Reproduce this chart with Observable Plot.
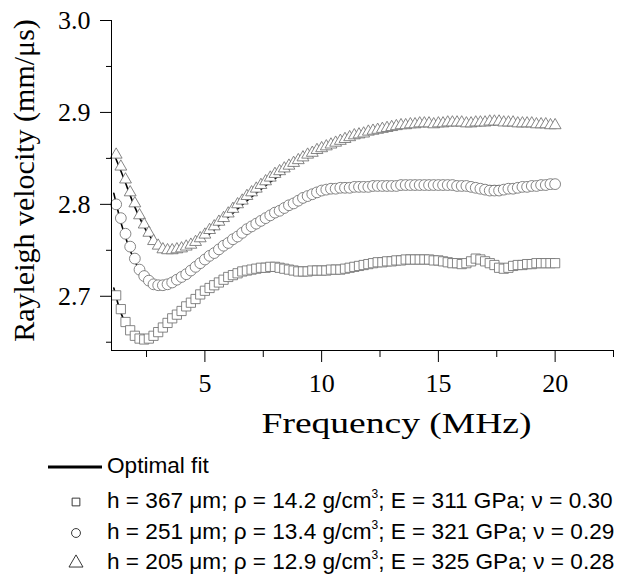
<!DOCTYPE html>
<html><head><meta charset="utf-8">
<script src="https://cdn.jsdelivr.net/npm/d3@7"></script>
<script src="https://cdn.jsdelivr.net/npm/@observablehq/plot@0.6"></script>
<style>
body{margin:0;background:#fff;width:619px;height:576px;overflow:hidden;}
#legend{position:relative;width:619px;height:131px;font-family:"Liberation Sans",Arial,sans-serif;font-size:22.6px;color:#000;}
#legend .row{position:absolute;left:0;line-height:22px;white-space:nowrap;}
#legend .txt{position:absolute;left:107px;top:0;}
#legend svg{position:absolute;overflow:visible;}
#legend sup{font-size:12px;vertical-align:10px;line-height:0;}
</style></head><body>
<div id="chart"></div>
<div id="legend"></div>
<script>
// Frequency grid of the measured points (MHz)
const freq = [
 1.2,1.4,1.6,1.8,2.0,2.2,2.4,2.6,2.8,3.0,
 3.2,3.4,3.6,3.8,4.0,4.2,4.4,4.6,4.8,5.0,
 5.2,5.4,5.6,5.8,6.0,6.2,6.4,6.6,6.8,7.0,
 7.2,7.4,7.6,7.8,8.0,8.2,8.4,8.6,8.8,9.0,
 9.2,9.4,9.6,9.8,10.0,10.2,10.4,10.6,10.8,11.0,
 11.2,11.4,11.6,11.8,12.0,12.2,12.4,12.6,12.8,13.0,
 13.2,13.4,13.6,13.8,14.0,14.2,14.4,14.6,14.8,15.0,
 15.2,15.4,15.6,15.8,16.0,16.2,16.4,16.6,16.8,17.0,
 17.2,17.4,17.6,17.8,18.0,18.2,18.4,18.6,18.8,19.0,
 19.2,19.4,19.6,19.8,20.0];
// Measured Rayleigh velocity (mm/us)
const velSquare = [
 2.701,2.686,2.672,2.663,2.657,2.654,2.653,2.654,2.657,2.661,
 2.666,2.671,2.676,2.680,2.684,2.689,2.693,2.697,2.702,2.706,
 2.709,2.712,2.715,2.718,2.721,2.723,2.725,2.727,2.728,2.729,
 2.730,2.731,2.731,2.732,2.732,2.731,2.730,2.729,2.728,2.727,
 2.727,2.727,2.728,2.728,2.728,2.728,2.729,2.729,2.729,2.730,
 2.731,2.732,2.733,2.734,2.735,2.736,2.737,2.737,2.738,2.738,
 2.739,2.739,2.740,2.740,2.740,2.740,2.740,2.740,2.739,2.739,
 2.738,2.737,2.736,2.736,2.735,2.736,2.738,2.741,2.740,2.738,
 2.736,2.734,2.731,2.730,2.731,2.733,2.734,2.734,2.735,2.735,
 2.736,2.736,2.736,2.736,2.736];
const velCircle = [
 2.800,2.785,2.768,2.754,2.741,2.729,2.722,2.717,2.713,2.712,
 2.712,2.713,2.715,2.718,2.721,2.724,2.728,2.732,2.736,2.740,
 2.744,2.747,2.751,2.755,2.758,2.762,2.765,2.769,2.773,2.776,
 2.779,2.782,2.785,2.788,2.791,2.793,2.796,2.799,2.801,2.804,
 2.807,2.809,2.811,2.813,2.815,2.816,2.817,2.817,2.818,2.818,
 2.818,2.819,2.819,2.819,2.819,2.820,2.820,2.820,2.820,2.820,
 2.820,2.821,2.821,2.821,2.821,2.821,2.821,2.821,2.821,2.821,
 2.821,2.821,2.821,2.820,2.820,2.820,2.819,2.818,2.817,2.816,
 2.815,2.815,2.815,2.816,2.817,2.817,2.818,2.819,2.819,2.820,
 2.820,2.821,2.821,2.822,2.822];
const velTriangle = [
 2.854,2.841,2.827,2.813,2.801,2.788,2.778,2.769,2.760,2.755,
 2.751,2.750,2.750,2.751,2.752,2.754,2.756,2.759,2.763,2.767,
 2.772,2.776,2.781,2.785,2.790,2.795,2.800,2.804,2.809,2.813,
 2.817,2.821,2.825,2.829,2.833,2.836,2.839,2.842,2.845,2.848,
 2.851,2.854,2.856,2.859,2.861,2.863,2.865,2.867,2.869,2.871,
 2.873,2.875,2.876,2.877,2.879,2.880,2.881,2.882,2.883,2.884,
 2.885,2.886,2.886,2.887,2.887,2.888,2.888,2.888,2.887,2.888,
 2.888,2.889,2.889,2.889,2.889,2.888,2.888,2.889,2.889,2.889,
 2.890,2.890,2.890,2.889,2.889,2.889,2.888,2.888,2.888,2.888,
 2.887,2.887,2.887,2.886,2.886];
// Optimal fit curves
const fitFreq     = [1.1,1.5,2.0,2.5,3.0,3.5,4.0,5.0,6.0,7.0,8.0,9.0,10.0,12.0,14.0,16.0,18.0,20.0];
const fitSquare   = [2.709,2.676,2.657,2.653,2.660,2.672,2.684,2.704,2.719,2.727,2.729,2.728,2.729,2.735,2.738,2.737,2.734,2.735];
const fitCircle   = [2.812,2.772,2.738,2.717,2.710,2.712,2.720,2.738,2.756,2.773,2.789,2.801,2.811,2.818,2.820,2.820,2.820,2.821];
const fitTriangle = [2.855,2.830,2.797,2.771,2.754,2.748,2.750,2.764,2.786,2.808,2.828,2.845,2.858,2.877,2.886,2.888,2.888,2.886];
// Axes
const yMajor = [2.7,2.8,2.9,3.0];
const yMinor = [2.65,2.75,2.85,2.95];
const xMajor = [5,10,15,20];
const xMinor = [2.5,7.5,12.5,17.5,22.5];
const xTitle = "Frequency (MHz)";
const yTitle = "Rayleigh velocity (mm/\u03bcs)";
// Legend
const fitLabel = "Optimal fit";
const seriesSymbols = ["square","circle","triangle"];
const seriesLabels = [
 "h = 367 \u03bcm; \u03c1 = 14.2 g/cm<sup>3</sup>; E = 311 GPa; \u03bd = 0.30",
 "h = 251 \u03bcm; \u03c1 = 13.4 g/cm<sup>3</sup>; E = 321 GPa; \u03bd = 0.29",
 "h = 205 \u03bcm; \u03c1 = 12.9 g/cm<sup>3</sup>; E = 325 GPa; \u03bd = 0.28"
];

const measured = [velSquare, velCircle, velTriangle].map((vals, k) =>
  vals.map((v, i) => ({f: freq[i], v, s: seriesSymbols[k]})));
const fits = [fitSquare, fitCircle, fitTriangle].flatMap((vals, k) =>
  vals.map((v, i) => ({f: fitFreq[i], v, s: seriesSymbols[k]})));

const markStroke = "#707070";
const symR = {square: 5.2, circle: 5.4, triangle: 4.4};

const chart = Plot.plot({
  width: 619, height: 445,
  marginLeft: 111, marginRight: 6, marginTop: 20, marginBottom: 95,
  x: {domain: [1, 22.5]},
  y: {domain: [2.641, 3.0]},
  style: {fontFamily: "'Liberation Serif', 'Times New Roman', serif", color: "#000", background: "transparent"},
  marks: [
    Plot.line(fits, {x: "f", y: "v", z: "s", stroke: "#000", strokeWidth: 1.6, curve: "catmull-rom"}),
    ...measured.map((d, k) => Plot.dot(d, {x: "f", y: "v", symbol: seriesSymbols[k], r: symR[seriesSymbols[k]],
      fill: "white", stroke: markStroke, strokeWidth: 0.85})),
    Plot.frame({anchor: "left", stroke: "#000", strokeWidth: 1}),
    Plot.frame({anchor: "bottom", stroke: "#000", strokeWidth: 1}),
    Plot.axisY(yMajor, {tickSize: 11, tickPadding: 10, tickFormat: d => d.toFixed(1), fontSize: 26, label: null}),
    Plot.axisY(yMinor, {tickSize: 5, tickFormat: () => "", label: null}),
    Plot.axisX(xMajor, {tickSize: 12, tickPadding: 11, fontSize: 26, label: null}),
    Plot.axisX(xMinor, {tickSize: 7, tickFormat: () => "", label: null}),
    Plot.text([yTitle], {frameAnchor: "left", rotate: -90, dx: -78, dy: -5, lineAnchor: "bottom", textAnchor: "middle", fontSize: 30}),
    Plot.text([xTitle], {frameAnchor: "bottom", dx: 34, dy: 82, lineAnchor: "bottom", textAnchor: "middle", fontSize: 29})
  ]
});
document.getElementById("chart").appendChild(chart);
// the original lettering is horizontally wide: stretch the x title to its measured width
chart.querySelectorAll("text").forEach(t => {
  if (t.textContent === xTitle) {
    t.setAttribute("textLength", 270);
    t.setAttribute("lengthAdjust", "spacingAndGlyphs");
  }
});

// Legend (HTML below the SVG)
const legend = document.getElementById("legend");
const rowTops = [10, 45, 76, 106];
const ns = "http://www.w3.org/2000/svg";
function addRow(top, html, symbol) {
  const row = document.createElement("div");
  row.className = "row";
  row.style.top = top + "px";
  const t = document.createElement("span");
  t.className = "txt";
  t.innerHTML = html;
  row.appendChild(t);
  const svg = document.createElementNS(ns, "svg");
  svg.setAttribute("width", 70); svg.setAttribute("height", 22);
  svg.style.left = "0px"; svg.style.top = "0px";
  let el;
  if (symbol === "line") {
    el = document.createElementNS(ns, "line");
    el.setAttribute("x1", 48); el.setAttribute("x2", 102);
    el.setAttribute("y1", 12); el.setAttribute("y2", 12);
    el.setAttribute("stroke", "#000"); el.setAttribute("stroke-width", 2.8);
  } else {
    el = document.createElementNS(ns, "path");
    el.setAttribute("transform", "translate(76,12)");
    const sym = {square: d3.symbolSquare, circle: d3.symbolCircle, triangle: d3.symbolTriangle}[symbol];
    const size = {square: 60, circle: 62, triangle: 85}[symbol];
    el.setAttribute("d", d3.symbol(sym, size)());
    el.setAttribute("fill", "white"); el.setAttribute("stroke", "#222"); el.setAttribute("stroke-width", 0.9);
  }
  svg.appendChild(el);
  row.appendChild(svg);
  legend.appendChild(row);
}
addRow(rowTops[0], fitLabel, "line");
seriesLabels.forEach((lab, k) => addRow(rowTops[k + 1], lab, seriesSymbols[k]));
</script>
</body></html>
